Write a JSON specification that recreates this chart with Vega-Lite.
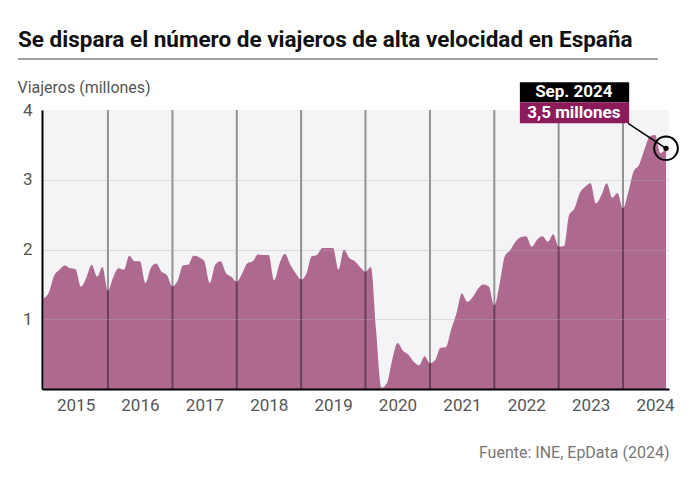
{
  "$schema": "https://vega.github.io/schema/vega-lite/v6.json",
  "width": 627,
  "height": 279,
  "autosize": {"type": "none"},
  "padding": {"left": 42, "top": 110, "right": 21, "bottom": 102},
  "background": "white",
  "config": {
    "font": "Roboto",
    "view": {"fill": "#f4f3f5", "stroke": null}
  },
  "title": {
    "text": "Se dispara el número de viajeros de alta velocidad en España",
    "anchor": "start",
    "frame": "group",
    "dx": -24,
    "offset": 7,
    "fontSize": 22.5,
    "fontWeight": "bold",
    "font": "Roboto",
    "color": "#111111"
  },
  "datasets": {
    "series": [
      {"date": "2015-01-01", "v": 1.30}, {"date": "2015-02-01", "v": 1.39}, {"date": "2015-03-01", "v": 1.62}, {"date": "2015-04-01", "v": 1.71},
      {"date": "2015-05-01", "v": 1.77}, {"date": "2015-06-01", "v": 1.73}, {"date": "2015-07-01", "v": 1.72}, {"date": "2015-08-01", "v": 1.47},
      {"date": "2015-09-01", "v": 1.60}, {"date": "2015-10-01", "v": 1.78}, {"date": "2015-11-01", "v": 1.61}, {"date": "2015-12-01", "v": 1.75},
      {"date": "2016-01-01", "v": 1.41}, {"date": "2016-02-01", "v": 1.61}, {"date": "2016-03-01", "v": 1.73}, {"date": "2016-04-01", "v": 1.71},
      {"date": "2016-05-01", "v": 1.91}, {"date": "2016-06-01", "v": 1.83}, {"date": "2016-07-01", "v": 1.83}, {"date": "2016-08-01", "v": 1.52},
      {"date": "2016-09-01", "v": 1.74}, {"date": "2016-10-01", "v": 1.80}, {"date": "2016-11-01", "v": 1.68}, {"date": "2016-12-01", "v": 1.63},
      {"date": "2017-01-01", "v": 1.47}, {"date": "2017-02-01", "v": 1.56}, {"date": "2017-03-01", "v": 1.77}, {"date": "2017-04-01", "v": 1.78},
      {"date": "2017-05-01", "v": 1.91}, {"date": "2017-06-01", "v": 1.89}, {"date": "2017-07-01", "v": 1.83}, {"date": "2017-08-01", "v": 1.52},
      {"date": "2017-09-01", "v": 1.78}, {"date": "2017-10-01", "v": 1.83}, {"date": "2017-11-01", "v": 1.66}, {"date": "2017-12-01", "v": 1.61},
      {"date": "2018-01-01", "v": 1.54}, {"date": "2018-02-01", "v": 1.66}, {"date": "2018-03-01", "v": 1.80}, {"date": "2018-04-01", "v": 1.83},
      {"date": "2018-05-01", "v": 1.93}, {"date": "2018-06-01", "v": 1.92}, {"date": "2018-07-01", "v": 1.92}, {"date": "2018-08-01", "v": 1.56},
      {"date": "2018-09-01", "v": 1.80}, {"date": "2018-10-01", "v": 1.94}, {"date": "2018-11-01", "v": 1.78}, {"date": "2018-12-01", "v": 1.66},
      {"date": "2019-01-01", "v": 1.57}, {"date": "2019-02-01", "v": 1.66}, {"date": "2019-03-01", "v": 1.90}, {"date": "2019-04-01", "v": 1.92},
      {"date": "2019-05-01", "v": 2.02}, {"date": "2019-06-01", "v": 2.02}, {"date": "2019-07-01", "v": 2.02}, {"date": "2019-08-01", "v": 1.71},
      {"date": "2019-09-01", "v": 2.00}, {"date": "2019-10-01", "v": 1.88}, {"date": "2019-11-01", "v": 1.83}, {"date": "2019-12-01", "v": 1.75},
      {"date": "2020-01-01", "v": 1.68}, {"date": "2020-02-01", "v": 1.75}, {"date": "2020-03-01", "v": 0.85}, {"date": "2020-04-01", "v": 0.02},
      {"date": "2020-05-01", "v": 0.08}, {"date": "2020-06-01", "v": 0.42}, {"date": "2020-07-01", "v": 0.66}, {"date": "2020-08-01", "v": 0.55},
      {"date": "2020-09-01", "v": 0.49}, {"date": "2020-10-01", "v": 0.39}, {"date": "2020-11-01", "v": 0.34}, {"date": "2020-12-01", "v": 0.47},
      {"date": "2021-01-01", "v": 0.37}, {"date": "2021-02-01", "v": 0.42}, {"date": "2021-03-01", "v": 0.59}, {"date": "2021-04-01", "v": 0.60},
      {"date": "2021-05-01", "v": 0.85}, {"date": "2021-06-01", "v": 1.09}, {"date": "2021-07-01", "v": 1.37}, {"date": "2021-08-01", "v": 1.25},
      {"date": "2021-09-01", "v": 1.32}, {"date": "2021-10-01", "v": 1.44}, {"date": "2021-11-01", "v": 1.50}, {"date": "2021-12-01", "v": 1.47},
      {"date": "2022-01-01", "v": 1.20}, {"date": "2022-02-01", "v": 1.52}, {"date": "2022-03-01", "v": 1.90}, {"date": "2022-04-01", "v": 1.99},
      {"date": "2022-05-01", "v": 2.11}, {"date": "2022-06-01", "v": 2.18}, {"date": "2022-07-01", "v": 2.19}, {"date": "2022-08-01", "v": 2.04},
      {"date": "2022-09-01", "v": 2.14}, {"date": "2022-10-01", "v": 2.19}, {"date": "2022-11-01", "v": 2.11}, {"date": "2022-12-01", "v": 2.22},
      {"date": "2023-01-01", "v": 2.04}, {"date": "2023-02-01", "v": 2.05}, {"date": "2023-03-01", "v": 2.49}, {"date": "2023-04-01", "v": 2.59},
      {"date": "2023-05-01", "v": 2.81}, {"date": "2023-06-01", "v": 2.90}, {"date": "2023-07-01", "v": 2.95}, {"date": "2023-08-01", "v": 2.66},
      {"date": "2023-09-01", "v": 2.78}, {"date": "2023-10-01", "v": 2.95}, {"date": "2023-11-01", "v": 2.74}, {"date": "2023-12-01", "v": 2.81},
      {"date": "2024-01-01", "v": 2.59}, {"date": "2024-02-01", "v": 2.83}, {"date": "2024-03-01", "v": 3.12}, {"date": "2024-04-01", "v": 3.21},
      {"date": "2024-05-01", "v": 3.43}, {"date": "2024-06-01", "v": 3.62}, {"date": "2024-07-01", "v": 3.64}, {"date": "2024-08-01", "v": 3.38},
      {"date": "2024-09-01", "v": 3.45}
    ],
    "years": [
      {"date": "2016-01-01", "v": 0, "v2": 4}, {"date": "2017-01-01", "v": 0, "v2": 4}, {"date": "2018-01-01", "v": 0, "v2": 4},
      {"date": "2019-01-01", "v": 0, "v2": 4}, {"date": "2020-01-01", "v": 0, "v2": 4}, {"date": "2021-01-01", "v": 0, "v2": 4},
      {"date": "2022-01-01", "v": 0, "v2": 4}, {"date": "2023-01-01", "v": 0, "v2": 4}, {"date": "2024-01-01", "v": 0, "v2": 4}
    ],
    "boxes": [
      {"date": "2022-05-26", "date2": "2024-02-05", "v": 4.397, "v2": 4.11, "kind": "date"},
      {"date": "2022-05-26", "date2": "2024-02-05", "v": 4.11, "v2": 3.809, "kind": "value"}
    ],
    "labels": [
      {"date": "2023-03-28", "v": 4.254, "text": "Sep. 2024"},
      {"date": "2023-03-28", "v": 3.955, "text": "3,5 millones"}
    ],
    "pointer": [
      {"date": "2024-01-30", "v": 3.809, "date2": "2024-09-01", "v2": 3.451}
    ],
    "last": [
      {"date": "2024-09-01", "v": 3.451}
    ],
    "divider": [
      {"date": "2014-08-09", "date2": "2024-07-17", "v": 4.731}
    ]
  },
  "encoding": {
    "x": {
      "field": "date", "type": "temporal",
      "scale": {"type": "utc", "domain": [{"year": 2014, "month": 12, "date": 23, "utc": true}, {"year": 2024, "month": 9, "date": 18, "utc": true}]},
      "axis": {
        "format": "%Y", "tickCount": {"interval": "year", "step": 1},
        "labelOffset": 32, "labelFontSize": 17, "labelColor": "#555555", "labelPadding": 8,
        "labelFlush": false, "labelBound": false, "labelOverlap": false,
        "ticks": false, "grid": false, "domainColor": "#000000", "domainWidth": 2,
        "title": "Fuente: INE, EpData (2024)", "titleAnchor": "end", "titleAlign": "right",
        "titleX": 627, "titleY": 63, "titleFontSize": 16, "titleFontWeight": "normal",
        "titleColor": "#777777", "titleBaseline": "middle", "zindex": 1
      }
    },
    "y": {
      "field": "v", "type": "quantitative",
      "scale": {"domain": [0, 4], "nice": false},
      "axis": {
        "values": [1, 2, 3, 4],
        "title": "Viajeros (millones)", "titleAngle": 0, "titleAlign": "left", "titleBaseline": "middle",
        "titleX": -25, "titleY": -23, "titleFontSize": 16, "titleFontWeight": "normal", "titleColor": "#555555",
        "labelFontSize": 17, "labelColor": "#555555", "labelPadding": 10,
        "ticks": false, "domainColor": "#000000", "domainWidth": 2,
        "gridColor": "#b0b0b0",
        "gridOpacity": {"condition": {"test": "datum.value == 4", "value": 0}, "value": 0.35},
        "zindex": 1
      }
    }
  },
  "layer": [
    {
      "data": {"name": "series"},
      "mark": {"type": "area", "interpolate": "monotone", "color": "#ad6a8e"}
    },
    {
      "data": {"name": "years"},
      "mark": {"type": "rule", "color": "#000000", "opacity": 0.4, "strokeWidth": 2},
      "encoding": {"y2": {"field": "v2"}}
    },
    {
      "data": {"name": "divider"},
      "mark": {"type": "rule", "color": "#444444", "strokeWidth": 1},
      "encoding": {"x2": {"field": "date2"}}
    },
    {
      "data": {"name": "boxes"},
      "mark": {"type": "rect"},
      "encoding": {
        "x2": {"field": "date2"},
        "y2": {"field": "v2"},
        "color": {"field": "kind", "type": "nominal", "scale": {"domain": ["date", "value"], "range": ["#000000", "#8c1b5c"]}, "legend": null}
      }
    },
    {
      "data": {"name": "labels"},
      "mark": {"type": "text", "color": "white", "fontWeight": "bold", "fontSize": 17, "font": "Roboto", "align": "center", "baseline": "middle"},
      "encoding": {"text": {"field": "text"}}
    },
    {
      "data": {"name": "pointer"},
      "mark": {"type": "rule", "color": "#000000", "strokeWidth": 1.5},
      "encoding": {"x2": {"field": "date2"}, "y2": {"field": "v2"}}
    },
    {
      "data": {"name": "last"},
      "mark": {"type": "point", "shape": "circle", "filled": false, "size": 560, "stroke": "#000000", "strokeWidth": 2, "opacity": 1}
    },
    {
      "data": {"name": "last"},
      "mark": {"type": "point", "shape": "circle", "filled": true, "size": 28, "color": "#000000", "opacity": 1}
    }
  ]
}
